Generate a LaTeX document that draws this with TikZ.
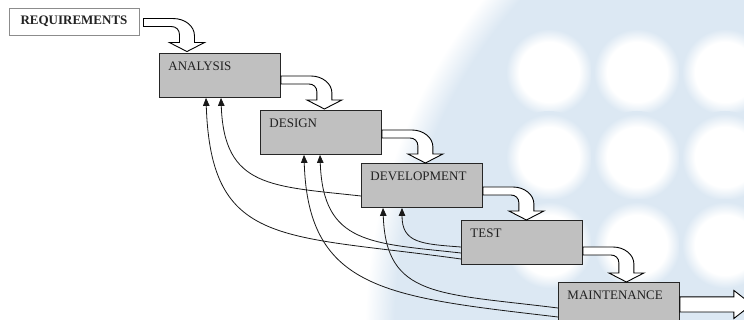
\documentclass[tikz,border=0pt]{standalone}
\usepackage{fontspec}
\setmainfont{Liberation Serif}
\usetikzlibrary{arrows.meta,calc}

\definecolor{bgblue}{RGB}{220,232,243}
\definecolor{boxgray}{RGB}{192,192,192}
\definecolor{ink}{RGB}{34,34,34}

% soft-edged backdrop: one large pale disc with white dots on it
% (a shaded path maps its bounding box onto the central 25bp radius)
\pgfdeclareradialshading{bigdisc}{\pgfpoint{0bp}{0bp}}{color(0bp)=(bgblue); color(23.6bp)=(bgblue); color(25bp)=(white); color(50bp)=(white)}
\pgfdeclareradialshading{softdot}{\pgfpoint{0bp}{0bp}}{color(0bp)=(white); color(16.3bp)=(white); color(23.4bp)=(bgblue); color(50bp)=(bgblue)}

% hollow bent arrow: #1 = top-left corner of its shaft, #2 = drop from shaft top to the head base
\newcommand{\bendarrow}[2]{%
  \draw[flowarrow, shift={(#1)}]
    (0,0) -- (30,0) .. controls (41.5,0) and (51,7.6) .. (51,17)
    -- (51,#2) -- (61,#2) -- (43.5,{#2+9}) -- (26,#2) -- (36,#2)
    -- (36,16) .. controls (36,11) and (32.4,8) .. (28,8) -- (0,8) -- cycle;}

\begin{document}
\begin{tikzpicture}[x=1pt,y=-1pt,
  font=\fontsize{13}{15}\selectfont,
  stage/.style={draw=black!85, line width=0.9pt, fill=boxgray, text=ink,
    anchor=north west, align=left, text width=103pt,
    inner xsep=9pt, inner ysep=8.5pt, text height=9pt, text depth=18pt},
  reqbox/.style={draw=black!45, line width=0.9pt, fill=white, text=ink,
    minimum width=130pt, minimum height=27pt, inner sep=0pt, font=\fontsize{13}{15}\selectfont\bfseries},
  flowarrow/.style={draw=black, fill=white, line width=0.9pt, line join=miter},
  feedback/.style={draw=black!90, line width=0.8pt, -{Triangle[length=8pt,width=6.5pt]}}]

\useasboundingbox (0,0) rectangle (744,320);

% backdrop
\begin{scope}
  \clip (0,0) rectangle (744,320);
  \fill[white] (0,0) rectangle (744,320);
  \shade[shading=bigdisc] (890,330) circle (525);
  \foreach \cy in {72,157,245}
    \foreach \cx in {549,637,725}
      \shade[shading=softdot] (\cx,\cy) circle (46);
\end{scope}

% stages
\node[reqbox] (req) at (74,21.5) {REQUIREMENTS};
\node[stage] (ana) at (159,53)  {ANALYSIS};
\node[stage] (des) at (260,110) {DESIGN};
\node[stage] (dev) at (361,163) {DEVELOPMENT};
\node[stage] (tst) at (461,220) {TEST};
\node[stage] (mnt) at (558,282) {MAINTENANCE};

% forward flow
\bendarrow{$(req.north east)+(4,11)$}{24}
\bendarrow{$(ana.north east)+(0,23)$}{24}
\bendarrow{$(des.north east)+(0,20)$}{24}
\bendarrow{$(dev.north east)+(0,24)$}{24}
\bendarrow{$(tst.north east)+(0,27)$}{26}
\draw[flowarrow] (mnt.east) ++(0,-7.5) -- ++(54,0) -- ++(0,-6.5) -- ++(18,14)
  -- ++(-18,14) -- ++(0,-6.5) -- ++(-54,0) -- cycle;

% feedback loops
\draw[feedback] ($(tst.north west)+(0,27)$) .. controls +(-40,-3) and +(0,35) .. ($(dev.south west)+(41,0)$);
\draw[feedback] ($(tst.north west)+(0,33)$) .. controls +(-90,-10) and +(3,90) .. ($(des.south west)+(60,0)$);
\draw[feedback] ($(tst.north west)+(0,39)$) .. controls +(-180,-25) and +(5,150) .. ($(ana.south west)+(47,0)$);
\draw[feedback] ($(dev.north west)+(0,33)$) .. controls +(-90,-10) and +(3,90) .. ($(ana.south west)+(62,0)$);
\draw[feedback] ($(mnt.north west)+(0,26)$) .. controls +(-120,-15) and +(3,90) .. ($(dev.south west)+(22,0)$);
\draw[feedback] ($(mnt.north west)+(0,35)$) .. controls +(-170,-20) and +(4,136) .. ($(des.south west)+(44,0)$);
\end{tikzpicture}
\end{document}
